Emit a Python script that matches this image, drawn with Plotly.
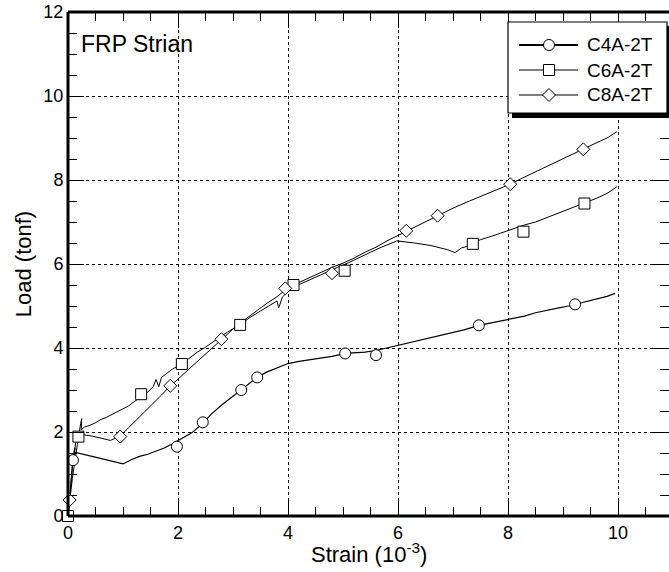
import plotly.graph_objects as go

# ---------------- data ----------------
c4_x = [0, 0.04, 0.09, 0.13, 0.11, 0.4, 0.7, 1.0, 1.15, 1.3, 1.45, 1.6, 1.75, 1.9, 2.0, 2.1,
        2.25, 2.45, 2.6, 2.8, 3.0, 3.15, 3.3, 3.44, 3.6, 3.8, 4.0, 4.2, 4.4, 4.6, 4.8, 5.04,
        5.2, 5.4, 5.6, 5.8, 6.0, 6.2, 6.4, 6.6, 6.8, 7.0, 7.2, 7.47, 7.7, 7.9, 8.1, 8.3, 8.5,
        8.7, 8.9, 9.1, 9.22, 9.4, 9.6, 9.8, 9.95]
c4_y = [0, 0.6, 1.33, 1.62, 1.52, 1.43, 1.34, 1.24, 1.34, 1.42, 1.47, 1.55, 1.62, 1.72, 1.8, 1.86,
        1.98, 2.2, 2.42, 2.65, 2.86, 3.0, 3.17, 3.30, 3.42, 3.53, 3.63, 3.68, 3.72, 3.75, 3.8, 3.87,
        3.88, 3.9, 3.94, 4.0, 4.06, 4.12, 4.18, 4.24, 4.3, 4.36, 4.43, 4.54, 4.6, 4.64, 4.7, 4.76, 4.84,
        4.9, 4.95, 5.0, 5.04, 5.1, 5.16, 5.23, 5.3]
c4_mx = [0.09, 1.98, 2.45, 3.15, 3.44, 5.04, 5.6, 7.47, 9.22]
c4_my = [1.33, 1.65, 2.23, 3.0, 3.30, 3.87, 3.83, 4.54, 5.04]

c6_x = [0, 0.08, 0.17, 0.19, 0.23, 0.25, 0.24, 0.3, 0.4, 0.5, 0.6, 0.7, 0.8, 0.9, 1.0, 1.1, 1.2,
        1.33, 1.45, 1.55, 1.6, 1.65, 1.7, 1.8, 1.9, 2.07, 2.2, 2.35, 2.5, 2.7, 2.9, 3.13, 3.3, 3.5,
        3.7, 3.8, 3.83, 3.9, 4.1, 4.3, 4.5, 4.7, 4.9, 5.1, 5.3, 5.5, 5.7, 5.98, 6.3, 6.6, 6.9, 7.04,
        7.15, 7.25, 7.36, 7.5, 7.7, 7.9, 8.1, 8.3, 8.5, 8.7, 8.9, 9.1, 9.39, 9.6, 9.8, 9.98]
c6_y = [0, 0.9, 1.7, 1.89, 2.2, 2.32, 2.05, 2.12, 2.16, 2.22, 2.3, 2.35, 2.42, 2.5, 2.55, 2.62, 2.72,
        2.85, 2.95, 3.08, 3.25, 3.08, 3.3, 3.4, 3.5, 3.62, 3.76, 3.9, 4.02, 4.2, 4.38, 4.56, 4.72, 4.88,
        5.05, 5.12, 4.95, 5.22, 5.45, 5.57, 5.68, 5.8, 5.92, 6.03, 6.16, 6.28, 6.4, 6.55, 6.5, 6.44, 6.34, 6.27,
        6.38, 6.42, 6.5, 6.58, 6.66, 6.75, 6.84, 6.93, 7.0, 7.1, 7.2, 7.3, 7.44, 7.56, 7.68, 7.84]
c6_mx = [0, 0.19, 1.33, 2.07, 3.13, 4.10, 5.03, 7.36, 8.28, 9.39]
c6_my = [0, 1.89, 2.90, 3.62, 4.55, 5.5, 5.84, 6.48, 6.77, 7.44]

c8_x = [0, 0.03, 0.08, 0.14, 0.2, 0.45, 0.77, 0.95, 1.1, 1.3, 1.5, 1.7, 1.86, 2.0, 2.2, 2.4, 2.6,
        2.79, 3.0, 3.2, 3.4, 3.6, 3.8, 3.95, 4.2, 4.4, 4.6, 4.8, 5.0, 5.2, 5.4, 5.6, 5.8, 6.0, 6.15,
        6.4, 6.72, 7.0, 7.3, 7.6, 7.8, 8.04, 8.3, 8.6, 8.9, 9.1, 9.37, 9.6, 9.8, 9.98]
c8_y = [0, 0.38, 1.2, 1.75, 1.95, 1.9, 1.8, 1.9, 2.1, 2.35, 2.62, 2.88, 3.1, 3.26, 3.5, 3.73, 3.97,
        4.21, 4.45, 4.66, 4.86, 5.05, 5.22, 5.38, 5.56, 5.68, 5.8, 5.92, 6.02, 6.14, 6.28, 6.4, 6.55, 6.68, 6.79,
        6.95, 7.15, 7.33, 7.5, 7.66, 7.76, 7.9, 8.07, 8.26, 8.44, 8.56, 8.73, 8.88, 9.0, 9.15]
c8_mx = [0.03, 0.95, 1.86, 2.79, 3.95, 4.8, 6.15, 6.72, 8.04, 9.37]
c8_my = [0.38, 1.89, 3.1, 4.21, 5.42, 5.78, 6.79, 7.15, 7.9, 8.73]

series_names = ["C4A-2T", "C6A-2T", "C8A-2T"]
x_ticks = [0, 2, 4, 6, 8, 10]
y_ticks = [0, 2, 4, 6, 8, 10, 12]

# ---------------- figure ----------------
W, H = 669, 572
ML, MR, MT, MB = 68, 0, 12, 56
PW, PH = W - ML - MR, H - MT - MB
FONT = "Liberation Sans, Arial, sans-serif"

fig = go.Figure()
lines = [(c4_x, c4_y, 1.2), (c6_x, c6_y, 1.0), (c8_x, c8_y, 1.0)]
marks = [(c4_mx, c4_my, "circle", 11), (c6_mx, c6_my, "square", 11), (c8_mx, c8_my, "diamond", 10)]
for (lx, ly, lw) in lines:
    fig.add_trace(go.Scatter(x=lx, y=ly, mode="lines", line=dict(color="black", width=lw),
                             showlegend=False, hoverinfo="skip"))
for (mx, my, sym, sz) in marks:
    fig.add_trace(go.Scatter(x=mx, y=my, mode="markers", cliponaxis=False,
                             marker=dict(symbol=sym, size=sz, color="white",
                                         line=dict(color="black", width=1)),
                             showlegend=False))

axis_common = dict(
    showline=True, linecolor="rgba(0,0,0,0)", linewidth=1, mirror="ticks",
    ticks="inside", ticklen=16, tickwidth=1, tickcolor="black",
    showgrid=True, gridcolor="black", gridwidth=1, griddash="3px,3px",
    zeroline=False,
    minor=dict(dtick=0.5, ticks="inside", ticklen=9, tickwidth=1, tickcolor="black", showgrid=False),
    tickfont=dict(family=FONT, size=18, color="black"),
)
fig.update_xaxes(range=[0, PW / 55.0], tickvals=x_ticks, **axis_common)
fig.update_yaxes(range=[0, 12], tickvals=y_ticks, **axis_common,
                 title=dict(text="Load (tonf)", font=dict(family=FONT, size=22, color="black"),
                            standoff=5))


def px(xp):
    return (xp - ML) / PW


def py(yp):
    return (H - MB - yp) / PH


shapes = []
# axis frame: left, bottom, top (right edge lies outside the picture in the reference)
for (x0, y0, x1, y1) in [(0, 0, 0, 1), (0, 0, 1, 0), (0, 1, 1, 1)]:
    shapes.append(dict(type="line", xref="paper", yref="paper", x0=x0, y0=y0, x1=x1, y1=y1,
                       line=dict(color="black", width=3), layer="above"))
# legend shadow and box
shapes.append(dict(type="rect", xref="paper", yref="paper", x0=px(512), x1=px(673), y0=py(118), y1=py(26),
                   fillcolor="black", line=dict(width=0), layer="above"))
shapes.append(dict(type="rect", xref="paper", yref="paper", x0=px(508), x1=px(667), y0=py(113), y1=py(22),
                   fillcolor="white", line=dict(color="black", width=1.2), layer="above"))
annotations = []
item_y = [45, 70, 95]
line_w = [2, 1, 1]
for i, name in enumerate(series_names):
    yc = item_y[i]
    shapes.append(dict(type="line", xref="paper", yref="paper", x0=px(519), x1=px(578), y0=py(yc), y1=py(yc),
                       line=dict(color="black", width=line_w[i]), layer="above"))
    r = 5.5
    if i == 0:
        shapes.append(dict(type="circle", xref="paper", yref="paper", x0=px(549 - r), x1=px(549 + r),
                           y0=py(yc + r), y1=py(yc - r), fillcolor="white",
                           line=dict(color="black", width=1), layer="above"))
    elif i == 1:
        shapes.append(dict(type="rect", xref="paper", yref="paper", x0=px(549 - r), x1=px(549 + r),
                           y0=py(yc + r), y1=py(yc - r), fillcolor="white",
                           line=dict(color="black", width=1), layer="above"))
    else:
        d = 6.5
        path = "M {} {} L {} {} L {} {} L {} {} Z".format(px(549 - d), py(yc), px(549), py(yc - d),
                                                          px(549 + d), py(yc), px(549), py(yc + d))
        shapes.append(dict(type="path", xref="paper", yref="paper", path=path, fillcolor="white",
                           line=dict(color="black", width=1), layer="above"))
    annotations.append(dict(text=name, xref="paper", yref="paper", x=px(585), y=py(yc),
                            xanchor="left", yanchor="middle", showarrow=False,
                            font=dict(family=FONT, size=19, color="black")))

annotations.append(dict(text="FRP Strian", xref="paper", yref="paper", x=px(79), y=py(44),
                        xanchor="left", yanchor="middle", showarrow=False,
                        font=dict(family=FONT, size=23, color="black")))
# x-axis title
annotations.append(dict(text="Strain (10<sup>-3</sup>)", xref="paper", yref="paper", x=px(369), y=py(553),
                        xanchor="center", yanchor="middle", showarrow=False,
                        font=dict(family=FONT, size=22, color="black")))

fig.update_layout(
    width=W, height=H, autosize=False,
    margin=dict(l=ML, r=MR, t=MT, b=MB, pad=0),
    paper_bgcolor="white", plot_bgcolor="white",
    showlegend=False,
    shapes=shapes, annotations=annotations,
    font=dict(family=FONT, color="black"),
)

fig.write_html("out.html")
